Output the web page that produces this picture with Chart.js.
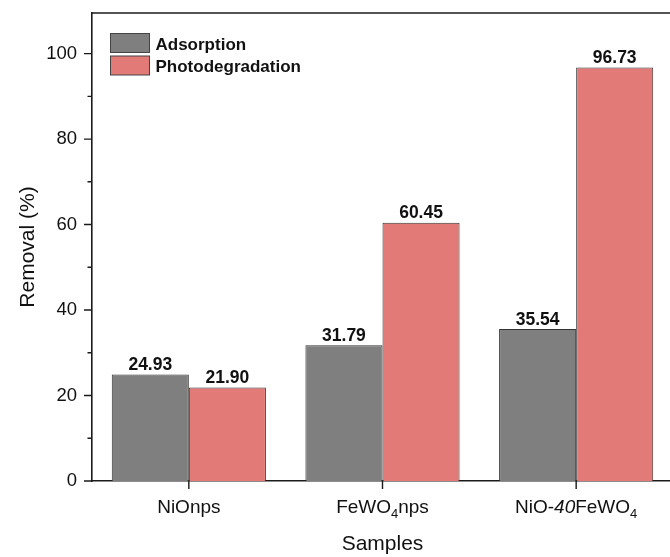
<!DOCTYPE html>
<html>
<head>
<meta charset="utf-8">
<script src="https://cdn.jsdelivr.net/npm/chart.js@4/dist/chart.umd.min.js"></script>
<style>
  html, body { margin: 0; padding: 0; background: #fff; overflow: hidden; }
  #wrap { width: 680px; height: 557px; position: relative; }
</style>
</head>
<body>
<div id="wrap"><canvas id="removal"></canvas></div>
<script>
// data
const categories = ["NiOnps", "FeWO4nps", "NiO-40FeWO4"];
const adsorption = [24.93, 31.79, 35.54];
const photodegradation = [21.9, 60.45, 96.73];
const yTickValues = [0, 20, 40, 60, 80, 100];
const yMinorValues = [10, 30, 50, 70, 90];
// how the category names are set: plain, subscript, italic
const categoryRuns = [
  [["NiOnps", ""]],
  [["FeWO", ""], ["4", "sub"], ["nps", ""]],
  [["NiO-", ""], ["40", "it"], ["FeWO", ""], ["4", "sub"]],
];

const FONT = '"Liberation Sans", Arial, sans-serif';
const AXIS = "#1a1a1a";

const decorations = {
  id: "decorations",
  afterDraw(chart) {
    const { ctx, chartArea: area, scales } = chart;
    const x = scales.x, y = scales.y;
    ctx.save();

    // top frame line (right side of the frame is cropped off)
    ctx.strokeStyle = AXIS;
    ctx.lineWidth = 1.6;
    ctx.beginPath();
    ctx.moveTo(area.left, area.top);
    ctx.lineTo(area.right + 10, area.top);
    ctx.stroke();

    // y ticks (major + minor), pointing out
    ctx.lineWidth = 1.4;
    ctx.beginPath();
    yTickValues.forEach((v) => {
      const py = y.getPixelForValue(v);
      ctx.moveTo(area.left - 8, py);
      ctx.lineTo(area.left, py);
    });
    yMinorValues.forEach((v) => {
      const py = y.getPixelForValue(v);
      ctx.moveTo(area.left - 4.5, py);
      ctx.lineTo(area.left, py);
    });
    // x ticks at category centres
    categories.forEach((c, i) => {
      const px = x.getPixelForValue(i);
      ctx.moveTo(px, area.bottom);
      ctx.lineTo(px, area.bottom + 8);
    });
    ctx.stroke();

    // x category names with subscripts / italics
    ctx.fillStyle = "#111";
    ctx.textBaseline = "alphabetic";
    ctx.textAlign = "left";
    categoryRuns.forEach((runs, i) => {
      const fonts = runs.map(([, kind]) =>
        kind === "sub" ? `13px ${FONT}` : kind === "it" ? `italic 19px ${FONT}` : `19px ${FONT}`
      );
      let total = 0;
      runs.forEach(([txt], k) => {
        ctx.font = fonts[k];
        total += ctx.measureText(txt).width;
      });
      let cx = x.getPixelForValue(i) - total / 2;
      const base = area.bottom + 31.5;
      runs.forEach(([txt, kind], k) => {
        ctx.font = fonts[k];
        ctx.fillText(txt, cx, kind === "sub" ? base + 5 : base);
        cx += ctx.measureText(txt).width;
      });
    });

    // value labels above bars
    ctx.font = `bold 17.5px ${FONT}`;
    ctx.textAlign = "center";
    ctx.fillStyle = "#111";
    chart.data.datasets.forEach((ds, di) => {
      chart.getDatasetMeta(di).data.forEach((bar, i) => {
        ctx.fillText(ds.data[i].toFixed(2), bar.x, bar.y - 4.5);
      });
    });

    // legend inside the plot
    ctx.font = `bold 17px ${FONT}`;
    ctx.textAlign = "left";
    chart.data.datasets.forEach((ds, di) => {
      const bx = area.left + 18.5;
      const by = area.top + 20.5 + di * 22.5;
      ctx.fillStyle = ds.backgroundColor;
      ctx.fillRect(bx, by, 39, 19);
      ctx.strokeStyle = "#444";
      ctx.lineWidth = 1;
      ctx.strokeRect(bx, by, 39, 19);
      ctx.fillStyle = "#111";
      ctx.fillText(ds.label, bx + 45, by + 16);
    });

    ctx.restore();
  },
};

new Chart(document.getElementById("removal"), {
  type: "bar",
  data: {
    labels: categories,
    datasets: [
      {
        label: "Adsorption",
        data: adsorption,
        backgroundColor: "#7f7f7f",
        borderColor: "#333",
        borderWidth: 1,
      },
      {
        label: "Photodegradation",
        data: photodegradation,
        backgroundColor: "#e27b78",
        borderColor: "#333",
        borderWidth: 1,
      },
    ],
  },
  options: {
    responsive: true,
    maintainAspectRatio: false,
    animation: false,
    layout: { padding: { top: 0, right: 7, left: 0, bottom: 0 } },
    plugins: {
      legend: { display: false },
      tooltip: { enabled: false },
    },
    datasets: {
      bar: { categoryPercentage: 0.796, barPercentage: 1.0 },
    },
    scales: {
      x: {
        offset: true,
        grid: { display: false, drawTicks: false },
        border: { display: true, color: AXIS, width: 1.6 },
        ticks: { display: false },
        title: {
          display: true,
          text: "Samples",
          color: "#111",
          font: { family: FONT, size: 21 },
          padding: { top: 0, bottom: 0 },
        },
        afterFit: (scale) => { scale.height = 76; },
      },
      y: {
        min: 0,
        max: 109.5,
        afterBuildTicks: (scale) => {
          scale.ticks = yTickValues.map((v) => ({ value: v }));
        },
        grid: { display: false, drawTicks: false },
        border: { display: true, color: AXIS, width: 1.6 },
        ticks: {
          color: "#111",
          padding: 15,
          font: { family: FONT, size: 18.5 },
        },
        title: {
          display: true,
          text: "Removal (%)",
          color: "#111",
          font: { family: FONT, size: 21 },
          padding: { top: 16, bottom: 0 },
        },
        afterFit: (scale) => {
          scale.width = 92;
          scale.paddingTop = 13;
          scale.paddingBottom = 0;
        },
      },
    },
  },
  plugins: [decorations],
});
</script>
</body>
</html>
